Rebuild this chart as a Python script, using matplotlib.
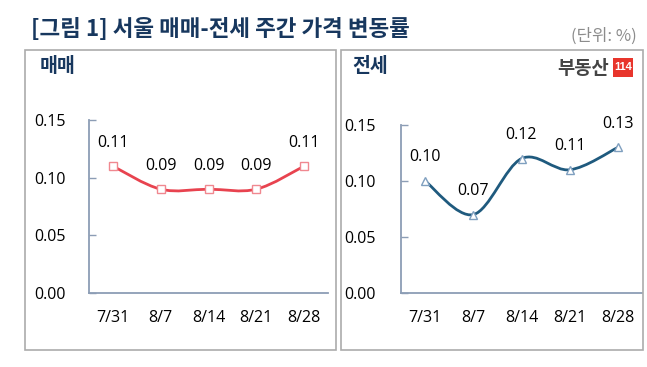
import numpy as np
import matplotlib
matplotlib.use("Agg")
import matplotlib.pyplot as plt
from matplotlib.path import Path
from matplotlib.patches import PathPatch, Rectangle

plt.rcParams['font.family'] = ['Open Sans', 'Noto Sans CJK KR', 'DejaVu Sans']
KR = ['Noto Sans CJK KR', 'DejaVu Sans']

# ---- data ----
dates = ["7/31", "8/7", "8/14", "8/21", "8/28"]
sale_values = [0.11, 0.09, 0.09, 0.09, 0.11]      # 매매
jeonse_values = [0.10, 0.07, 0.12, 0.11, 0.13]    # 전세
yticks = [0.00, 0.05, 0.10, 0.15]
title = "[그림 1] 서울 매매-전세 주간 가격 변동률"
unit_label = "(단위: %)"
panel_titles = ["매매", "전세"]

W, H = 647, 367
fig = plt.figure(figsize=(W / 100, H / 100), dpi=100)
fig.patch.set_facecolor("white")


def fx(px):
    return px / W


def fy(py):
    return 1 - py / H


def smooth_path(xs, ys):
    pts = np.column_stack([xs, ys]).astype(float)
    n = len(pts)
    verts = [pts[0]]
    codes = [Path.MOVETO]
    for i in range(n - 1):
        p0 = pts[max(i - 1, 0)]
        p1 = pts[i]
        p2 = pts[i + 1]
        p3 = pts[min(i + 2, n - 1)]
        c1 = p1 + (p2 - p0) / 6.0
        c2 = p2 - (p3 - p1) / 6.0
        verts += [c1, c2, p2]
        codes += [Path.CURVE4] * 3
    return Path(verts, codes)


NAVY = "#17375E"
SPINE = "#8C9DB5"

# title
fig.text(fx(31), fy(29), title, fontsize=16.2, fontweight="bold", color=NAVY,
         ha="left", va="center", family=KR)
fig.text(fx(637), fy(36), unit_label, fontsize=12, color="#8C8C8C",
         ha="right", va="center", family=KR)

# panel boxes
for (x0, x1) in [(25, 336), (341, 643)]:
    fig.patches.append(Rectangle((fx(x0), fy(350)), fx(x1 - x0), (350 - 50) / H,
                                 transform=fig.transFigure, fill=False,
                                 edgecolor="#ABABAB", linewidth=1.2))

fig.text(fx(40), fy(66), panel_titles[0], fontsize=14, fontweight="bold",
         color=NAVY, ha="left", va="center", family=KR)
fig.text(fx(352), fy(66), panel_titles[1], fontsize=14, fontweight="bold",
         color=NAVY, ha="left", va="center", family=KR)

# logo
fig.text(fx(609), fy(68.5), "부동산", fontsize=13.5, fontweight="bold",
         color="#444444", ha="right", va="center", family=KR)
fig.patches.append(Rectangle((fx(613), fy(76.5)), fx(20), 18 / H,
                             transform=fig.transFigure, facecolor="#E8352C",
                             edgecolor="none"))
fig.text(fx(623), fy(67.5), "114", fontsize=8, fontweight="bold",
         color="white", ha="center", va="center",
         family=['Liberation Sans', 'DejaVu Sans'])


def make_panel(left, right, top, bottom, values, line_color, marker,
               mec, msize, ypad):
    ax = fig.add_axes([fx(left), fy(bottom), fx(right - left), (bottom - top) / H])
    x = np.arange(len(values))
    ax.set_xlim(-0.5, len(values) - 0.5)
    ax.set_ylim(0, 0.15)
    ax.add_patch(PathPatch(smooth_path(x, values), fill=False,
                           edgecolor=line_color, linewidth=2.0,
                           capstyle="round", joinstyle="round", zorder=3))
    ax.plot(x, values, linestyle="none", marker=marker, markersize=msize,
            markerfacecolor="white", markeredgecolor=mec,
            markeredgewidth=1.0, zorder=4, clip_on=False)
    for xi, v in zip(x, values):
        ax.annotate(f"{v:.2f}", (xi, v), xytext=(0, 17), textcoords="offset points",
                    ha="center", va="center", fontsize=11.5, color="black")
    ax.set_xticks(x)
    ax.set_xticklabels(dates)
    ax.set_yticks(yticks)
    ax.set_yticklabels([f"{t:.2f}" for t in yticks])
    for s in ["top", "right"]:
        ax.spines[s].set_visible(False)
    for s in ["left", "bottom"]:
        ax.spines[s].set_color(SPINE)
        ax.spines[s].set_linewidth(1.3)
    ax.tick_params(axis="y", direction="in", length=5, width=1.0, color=SPINE,
                   pad=ypad, labelsize=11.5, labelcolor="black")
    ax.tick_params(axis="x", length=0, pad=12, labelsize=11.5, labelcolor="black")
    ax.patch.set_alpha(0)
    return ax


make_panel(89, 328, 120, 293, sale_values, "#E8434F", "s", "#F08890", 5.2, 16.5)
make_panel(401, 642, 125, 293, jeonse_values, "#1F5A7E", "^", "#7F9FBF", 6.0, 18.5)

fig.savefig("out.png", dpi=100, facecolor="white")
